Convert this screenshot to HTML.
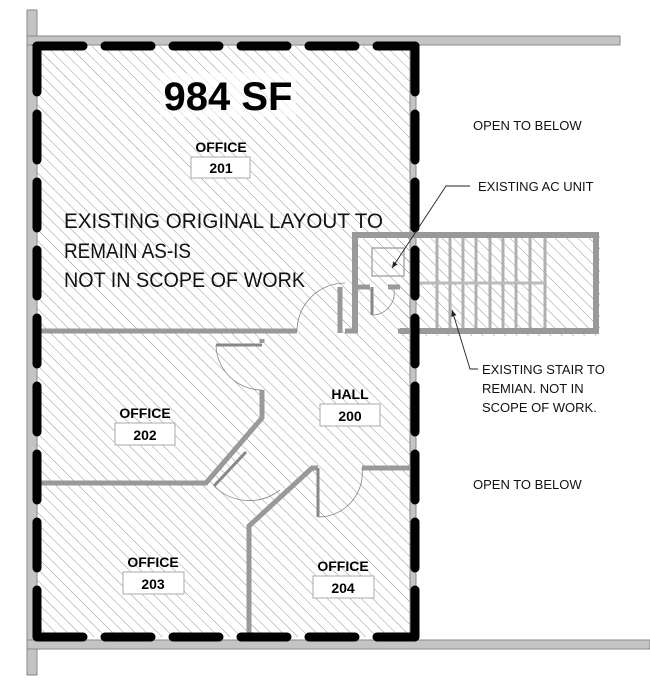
<!DOCTYPE html>
<html><head><style>
html,body{margin:0;padding:0;background:#fff;}
svg{display:block;}
text{font-family:"Liberation Sans",sans-serif;}
.t{font-family:"Liberation Sans",sans-serif;font-size:13px;fill:#111;}
</style></head><body>
<svg width="650" height="693" viewBox="0 0 650 693" xmlns="http://www.w3.org/2000/svg">
<defs>
<pattern id="h" patternUnits="userSpaceOnUse" width="8" height="8" patternTransform="rotate(-45)">
<line x1="0" y1="0" x2="0" y2="8" stroke="#8a8a8a" stroke-width="0.9"/>
</pattern>
<marker id="a" markerWidth="8" markerHeight="8" refX="7" refY="4" orient="auto"><path d="M0,1 L7,4 L0,7z" fill="#222"/></marker>
</defs>
<rect width="650" height="693" fill="#fff"/>
<rect x="37" y="46" width="378" height="591" fill="url(#h)"/>
<rect x="400" y="232" width="200" height="104" fill="url(#h)"/>
<g fill="#c4c4c4" stroke="#888" stroke-width="1">
<rect x="27" y="10" width="10" height="665"/>
<rect x="27" y="36" width="593" height="9"/>
<rect x="27" y="640" width="623" height="9"/>
<rect x="410" y="45" width="6" height="595"/>
</g>
<g fill="none" stroke="#999" stroke-width="6">
<path d="M400,235 H596 V331 H400"/>
<path d="M355,333 V235 H400"/>
</g>
<g stroke="#b0b0b0" stroke-width="3">
<line x1="437" y1="238" x2="437" y2="328"/><line x1="450" y1="238" x2="450" y2="328"/>
<line x1="463" y1="238" x2="463" y2="328"/><line x1="476" y1="238" x2="476" y2="328"/>
<line x1="490" y1="238" x2="490" y2="328"/><line x1="503" y1="238" x2="503" y2="328"/>
<line x1="516" y1="238" x2="516" y2="328"/><line x1="530" y1="238" x2="530" y2="328"/>
<line x1="545" y1="238" x2="545" y2="328"/>
</g>
<line x1="420" y1="283" x2="545" y2="283" stroke="#bbb" stroke-width="3"/>
<rect x="372" y="248" width="32" height="28" fill="none" stroke="#aaa" stroke-width="1.5"/>
<g fill="none" stroke="#999" stroke-width="5">
<path d="M37,331 H297"/>
<path d="M345,331 H358"/>
<path d="M370,287 H355"/>
<path d="M388,287 H400"/>
<path d="M340,287 V333"/>
<path d="M398,331 H412"/>
<path d="M262,343 V339"/>
<path d="M262,390 V418 L206,483 H37"/>
<path d="M249,640 V526 L312,468 H318"/>
<path d="M362,468 H412"/>
</g>
<g stroke="#888" stroke-width="3" fill="none">
<path d="M216,345 H262"/>
<path d="M318,468 V517"/>
<path d="M214,486 L246,452"/>
<path d="M372,287 V315"/>
</g>
<g stroke="#888" stroke-width="0.8" fill="none">
<path d="M297,331 A48,48 0 0 1 345,283"/>
<path d="M216,345 A46,46 0 0 0 262,390"/>
<path d="M214,486 A50,50 0 0 0 280,490"/>
<path d="M318,517 A44,44 0 0 0 362,468"/>
<path d="M372,315 A22,22 0 0 0 394,290"/>
</g>
<g fill="none" stroke="#000" stroke-width="9" stroke-linecap="round" stroke-dasharray="46 22">
<path d="M37,46 H415"/>
<path d="M37,46 V637"/>
<path d="M37,637 H415"/>
<path d="M415,46 V637"/>
</g>
<rect x="160" y="73" width="136" height="44" fill="#fff" opacity="0.6"/>
<text x="228" y="110" font-size="40" font-weight="bold" text-anchor="middle">984 SF</text>
<g font-size="14" font-weight="bold" text-anchor="middle">
<text x="221" y="152">OFFICE</text><rect x="191" y="157" width="59" height="21" fill="#fff" stroke="#aaa"/><text x="221" y="173">201</text>
<text x="350" y="399">HALL</text><rect x="320" y="404" width="60" height="22" fill="#fff" stroke="#aaa"/><text x="350" y="421">200</text>
<text x="145" y="418">OFFICE</text><rect x="115" y="423" width="60" height="22" fill="#fff" stroke="#aaa"/><text x="145" y="440">202</text>
<text x="153" y="567">OFFICE</text><rect x="123" y="572" width="61" height="22" fill="#fff" stroke="#aaa"/><text x="153" y="589">203</text>
<text x="343" y="571">OFFICE</text><rect x="313" y="576" width="61" height="22" fill="#fff" stroke="#aaa"/><text x="343" y="593">204</text>
</g>
<g font-size="21" fill="#111">
<text x="64" y="228" textLength="319" lengthAdjust="spacingAndGlyphs">EXISTING ORIGINAL LAYOUT TO</text>
<text x="64" y="258" textLength="127" lengthAdjust="spacingAndGlyphs">REMAIN AS-IS</text>
<text x="64" y="287" textLength="241" lengthAdjust="spacingAndGlyphs">NOT IN SCOPE OF WORK</text>
</g>
<text class="t" x="473" y="130">OPEN TO BELOW</text>
<text class="t" x="473" y="489">OPEN TO BELOW</text>
<text class="t" x="478" y="191">EXISTING AC UNIT</text>
<text class="t" x="482" y="374">EXISTING STAIR TO</text>
<text class="t" x="482" y="393">REMIAN. NOT IN</text>
<text class="t" x="482" y="412">SCOPE OF WORK.</text>
<g stroke="#222" stroke-width="0.9" fill="none">
<path d="M470,186 H446 L392,268" marker-end="url(#a)"/>
<path d="M478,369 H470 L452,310" marker-end="url(#a)"/>
</g>
</svg>
</body></html>
